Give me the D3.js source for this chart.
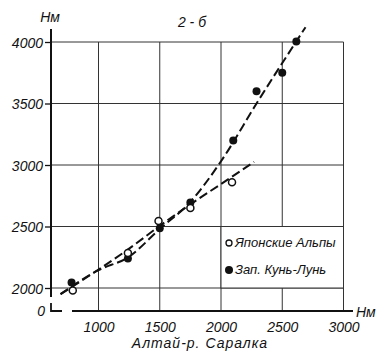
<!DOCTYPE html>
<html>
<head>
<meta charset="utf-8">
<script src="https://cdn.jsdelivr.net/npm/d3@7"></script>
<style>
body{margin:0;background:#fff}
svg text{font-family:"Liberation Sans",Arial,sans-serif;font-style:italic;fill:#111}
</style>
</head>
<body>
<svg id="chart" width="381" height="354"></svg>
<script>
// values
const xTicks = [1000, 1500, 2000, 2500, 3000]
const yTicks = [2000, 2500, 3000, 3500, 4000]

const japanX = [790, 1240, 1490, 1750, 2090]
const japanY = [1980, 2285, 2545, 2650, 2860]
const kunX = [780, 1240, 1500, 1750, 2100, 2290, 2500, 2615]
const kunY = [2045, 2240, 2485, 2695, 3200, 3600, 3750, 4005]

// hand drawn trend lines
const japanFitX = [690, 1000, 1250, 1500, 1750, 2000, 2270]
const japanFitY = [1950, 2150, 2320, 2505, 2680, 2845, 3025]
const kunFitX = [690, 1000, 1250, 1500, 1750, 2000, 2290, 2690]
const kunFitY = [1950, 2145, 2255, 2480, 2700, 3030, 3500, 4120]

const legendNames = ["Японские Альпы", "Зап. Кунь-Лунь"]

const svg = d3.select("#chart")
const x = d3.scaleLinear().domain([1000, 3000]).range([98.5, 343.5])
const y = d3.scaleLinear().domain([2000, 4000]).range([288, 42])
const axisX = 51, axisY = 311
const fmt = d3.format("d")

// grid
svg.append("g").selectAll("line").data(yTicks).join("line")
	.attr("x1", axisX).attr("x2", x(3000))
	.attr("y1", d=>y(d)).attr("y2", d=>y(d))
	.attr("stroke", "#333").attr("stroke-width", 1)
svg.append("g").selectAll("line").data(xTicks).join("line")
	.attr("x1", d=>x(d)).attr("x2", d=>x(d))
	.attr("y1", y(4000)).attr("y2", axisY)
	.attr("stroke", "#333").attr("stroke-width", 1)

// y axis
const gy = svg.append("g")
	.attr("transform", `translate(${axisX},0)`)
	.call(d3.axisLeft(y).tickValues(yTicks).tickFormat(fmt).tickSize(6).tickPadding(2))
gy.select(".domain").remove()
gy.selectAll("line").attr("stroke", "#111").attr("stroke-width", 1.3)
gy.selectAll("text").attr("font-size", 14).attr("dy", "0.36em")
svg.append("line")
	.attr("x1", axisX).attr("x2", axisX).attr("y1", 29).attr("y2", 297)
	.attr("stroke", "#111").attr("stroke-width", 2)

// x axis
const gx = svg.append("g")
	.attr("transform", `translate(0,${axisY})`)
	.call(d3.axisBottom(x).tickValues(xTicks).tickFormat(fmt).tickSize(0).tickPadding(11))
gx.select(".domain").remove()
gx.selectAll("text").attr("font-size", 14)
svg.append("line")
	.attr("x1", 72).attr("x2", 353).attr("y1", axisY).attr("y2", axisY)
	.attr("stroke", "#111").attr("stroke-width", 1.8)

// broken origin
svg.append("path")
	.attr("d", `M${axisX},303V${axisY}H62`)
	.attr("fill", "none").attr("stroke", "#111").attr("stroke-width", 1.8)
svg.append("text").attr("x", 45).attr("y", 316).attr("text-anchor", "end")
	.attr("font-size", 14).text("0")

// labels
svg.append("text").attr("x", 50).attr("y", 22).attr("text-anchor", "middle")
	.attr("font-size", 14).text("Нм")
svg.append("text").attr("x", 356).attr("y", 317)
	.attr("font-size", 14).text("Нм")
svg.append("text").attr("x", 192).attr("y", 27).attr("text-anchor", "middle")
	.attr("font-size", 14).text("2 - б")
svg.append("text").attr("x", 200).attr("y", 348).attr("text-anchor", "middle")
	.attr("font-size", 14).attr("letter-spacing", 1).text("Алтай-р. Саралка")

// legend box over one grid cell
svg.append("rect")
	.attr("x", x(2000)).attr("y", y(2500))
	.attr("width", x(3000)-x(2000)).attr("height", y(2000)-y(2500))
	.attr("fill", "#fff").attr("stroke", "#333").attr("stroke-width", 1)

// trend lines
const line = d3.line().x(d=>x(d[0])).y(d=>y(d[1])).curve(d3.curveMonotoneX)
svg.append("path")
	.datum(d3.zip(kunFitX, kunFitY))
	.attr("d", line)
	.attr("fill", "none").attr("stroke", "#111").attr("stroke-width", 2)
	.attr("stroke-dasharray", "9,4")
svg.append("path")
	.datum(d3.zip(japanFitX, japanFitY))
	.attr("d", line)
	.attr("fill", "none").attr("stroke", "#111").attr("stroke-width", 2)
	.attr("stroke-dasharray", "9,4")

// points
svg.append("g").selectAll("circle").data(d3.zip(kunX, kunY)).join("circle")
	.attr("cx", d=>x(d[0])).attr("cy", d=>y(d[1])).attr("r", 4)
	.attr("fill", "#111")
svg.append("g").selectAll("circle").data(d3.zip(japanX, japanY)).join("circle")
	.attr("cx", d=>x(d[0])).attr("cy", d=>y(d[1])).attr("r", 3.5)
	.attr("fill", "#fff").attr("stroke", "#111").attr("stroke-width", 1.5)

// legend
const leg = svg.append("g")
leg.append("circle").attr("cx", 229).attr("cy", 243).attr("r", 3)
	.attr("fill", "#fff").attr("stroke", "#111").attr("stroke-width", 1.3)
leg.append("circle").attr("cx", 229).attr("cy", 270).attr("r", 4)
	.attr("fill", "#111")
leg.selectAll("text").data(legendNames).join("text")
	.attr("x", 235).attr("y", (d, i)=>247+i*27)
	.attr("font-size", 13).text(d=>d)
</script>
</body>
</html>
